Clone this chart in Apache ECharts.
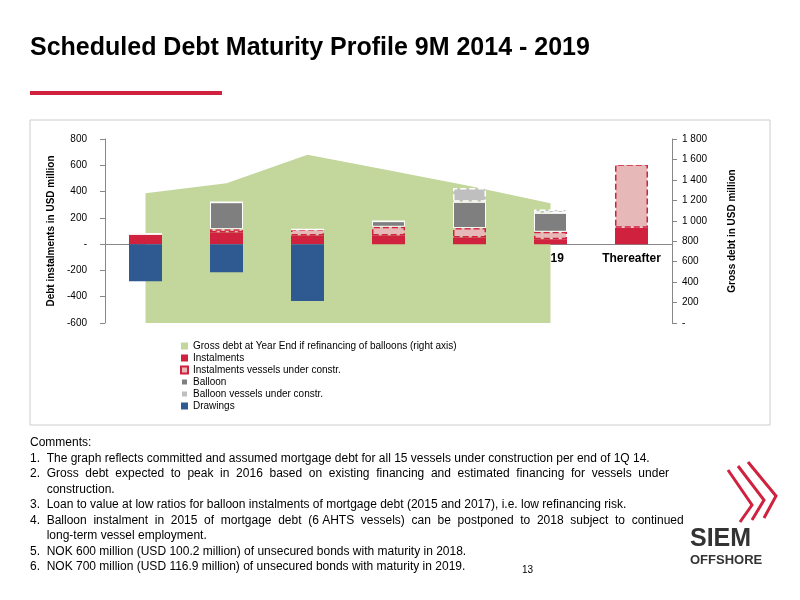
<!DOCTYPE html>
<html lang="en">
<head>
<meta charset="UTF-8">
<title>debt maturity</title>
<script src="https://cdn.jsdelivr.net/npm/echarts@6/dist/echarts.min.js"></script>
<style>body{margin:0;background:#fff}</style>
</head>
<body>
<div id="chart" style="width:800px;height:600px"></div>
<script>
var categories = ['2014', '2015', '2016', '2017', '2018', '2019', 'Thereafter'];
var grossDebt = [1269, 1366, 1647, 1495, 1340, 1172, null];
var instalments = [75, 89, 66, 66, 51, 38, 124];
var instalmentsUc = [3, 25, 45, 66, 71, 56, 484];
var balloon = [0, 205, 0, 43, 200, 144, 0];
var balloonUc = [0, 0, 0, 0, 106, 25, 0];
var drawings = [-283, -213, -433, 0, 0, 0, 0];
var leftTicks = [-600, 800, 200];
var rightTicks = [0, 1800, 200];

var comments = [
    'Comments:',
    '1.  The graph reflects committed and assumed mortgage debt for all 15 vessels under construction per end of 1Q 14.',
    '2.  Gross  debt  expected  to  peak  in  2016  based  on  existing  financing  and  estimated  financing  for  vessels  under',
    '     construction.',
    '3.  Loan to value at low ratios for balloon instalments of mortgage debt (2015 and 2017), i.e. low refinancing risk.',
    '4.  Balloon  instalment  in  2015  of  mortgage  debt  (6 AHTS  vessels)  can  be  postponed  to  2018  subject  to  continued',
    '     long-term vessel employment.',
    '5.  NOK 600 million (USD 100.2 million) of unsecured bonds with maturity in 2018.',
    '6.  NOK 700 million (USD 116.9 million) of unsecured bonds with maturity in 2019.'
];

function fmt(v) {
    if (v === 0) return '-';
    var s = String(Math.abs(v));
    if (s.length > 3) s = s.slice(0, s.length - 3) + ' ' + s.slice(-3);
    return (v < 0 ? '-' : '') + s;
}

var chart = echarts.init(document.getElementById('chart'));
var F = 'Arial, Liberation Sans, sans-serif';
var commentText = comments.map(function (t, i) {
    return {type: 'text', left: 30, top: 437 + i * 15.5,
        style: {text: t, font: '12px ' + F, fill: '#000'}};
});

// zero of left axis sits 600/1400 of the plot height above the bottom
var plotH = 184;
var zeroOffset = -Math.round(plotH * 600 / 1400);

chart.setOption({
    textStyle: {fontFamily: F},
    graphic: [
        {type: 'text', left: 30, top: 36, style: {text: 'Scheduled Debt Maturity Profile 9M 2014 - 2019', font: 'bold 25px ' + F, fill: '#000'}},
        {type: 'rect', shape: {x: 30, y: 91, width: 192, height: 4}, style: {fill: '#d0213f'}},
        {type: 'rect', shape: {x: 30, y: 120, width: 740, height: 305}, style: {fill: 'none', stroke: '#cccccc', lineWidth: 1}},
        {type: 'text', left: 522, top: 565, style: {text: '13', font: '10px ' + F, fill: '#000'}},
        {type: 'text', left: 690, top: 527, style: {text: 'SIEM', font: 'bold 25px ' + F, fill: '#333'}},
        {type: 'text', left: 690, top: 554, style: {text: 'OFFSHORE', font: 'bold 13px ' + F, fill: '#333'}},
        {type: 'polyline', shape: {points: [[728, 470], [752, 505], [740, 522]]}, style: {stroke: '#d0213f', lineWidth: 3, fill: 'none'}},
        {type: 'polyline', shape: {points: [[738, 466], [764, 500], [752, 520]]}, style: {stroke: '#d0213f', lineWidth: 3, fill: 'none'}},
        {type: 'polyline', shape: {points: [[748, 462], [776, 496], [764, 518]]}, style: {stroke: '#d0213f', lineWidth: 3, fill: 'none'}}
    ].concat(commentText),
    grid: {left: 105, right: 128, top: 139, bottom: 277},
    legend: {
        orient: 'vertical', left: 175, top: 336, itemGap: 2, itemWidth: 7, itemHeight: 7, icon: 'rect',
        textStyle: {fontSize: 10, color: '#000'},
        data: ['Gross debt at Year End if refinancing of balloons (right axis)', 'Instalments',
            'Instalments vessels under constr.', 'Balloon', 'Balloon vessels under constr.', 'Drawings']
    },
    xAxis: {
        type: 'category', data: categories, offset: zeroOffset,
        axisLine: {onZero: false, lineStyle: {color: '#888'}},
        axisTick: {show: false},
        axisLabel: {fontWeight: 'bold', fontSize: 12, color: '#000', margin: 9}
    },
    yAxis: [{
        type: 'value', min: leftTicks[0], max: leftTicks[1], interval: leftTicks[2],
        name: 'Debt instalments in USD million', nameLocation: 'middle', nameGap: 48,
        nameTextStyle: {fontWeight: 'bold', fontSize: 10, color: '#000'},
        axisLine: {show: true, lineStyle: {color: '#888'}}, axisTick: {show: true},
        splitLine: {show: false},
        axisLabel: {color: '#000', fontSize: 10, formatter: fmt, margin: 18}
    }, {
        type: 'value', min: rightTicks[0], max: rightTicks[1], interval: rightTicks[2],
        name: 'Gross debt in USD million', nameLocation: 'middle', nameGap: 55, nameRotate: 90,
        nameTextStyle: {fontWeight: 'bold', fontSize: 10, color: '#000'},
        axisLine: {show: true, lineStyle: {color: '#888'}}, axisTick: {show: true},
        splitLine: {show: false},
        axisLabel: {color: '#000', fontSize: 10, formatter: fmt, margin: 10}
    }],
    series: [{
        name: 'Gross debt at Year End if refinancing of balloons (right axis)', type: 'line',
        yAxisIndex: 1, data: grossDebt, symbol: 'none', z: 1,
        lineStyle: {width: 0}, itemStyle: {color: '#c3d69b'},
        areaStyle: {color: '#c3d69b', opacity: 1}
    }, {
        name: 'Instalments', type: 'bar', stack: 'd', data: instalments, barWidth: 33, z: 3,
        itemStyle: {color: '#d0213f'}
    }, {
        name: 'Instalments vessels under constr.', type: 'bar', stack: 'd', data: instalmentsUc, z: 3,
        itemStyle: {color: '#e6b9b8', borderColor: '#d0213f', borderWidth: 1.5, borderType: 'dashed'}
    }, {
        name: 'Balloon', type: 'bar', stack: 'd', data: balloon, z: 3,
        itemStyle: {color: '#7f7f7f', borderColor: '#fff', borderWidth: 1}
    }, {
        name: 'Balloon vessels under constr.', type: 'bar', stack: 'd', data: balloonUc, z: 3,
        itemStyle: {color: '#bfbfbf', borderColor: '#fff', borderWidth: 1.5, borderType: 'dashed'}
    }, {
        name: 'Drawings', type: 'bar', stack: 'd', data: drawings, z: 3,
        itemStyle: {color: '#2e5a91'}
    }]
});
</script>
</body>
</html>
